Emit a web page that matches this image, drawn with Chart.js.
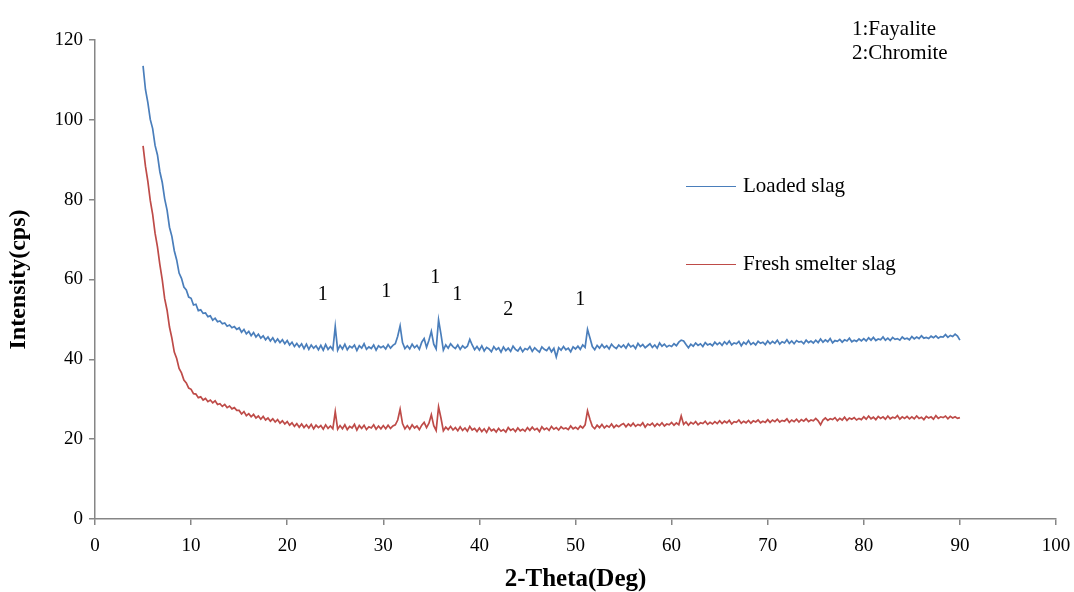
<!DOCTYPE html>
<html>
<head>
<meta charset="utf-8">
<script src="https://cdn.jsdelivr.net/npm/chart.js@4.4.0/dist/chart.umd.min.js"></script>
<style>
  html, body { margin: 0; padding: 0; background: #fff; }
  #wrap { width: 1074px; height: 592px; position: relative; }
</style>
</head>
<body>
<div id="wrap"><canvas id="xrd"></canvas></div>
<script>
// 2-theta grid: 5.00 .. 90.00 deg, 0.25 deg per reading
const thetaStart = 5;
const thetaStep = 0.25;

// Loaded slag (cps), one row per 5 deg
const loadedSlag = [
  113.5, 107.6, 104.3, 100.1, 97.8, 93.6, 91.2, 87.0, 84.3, 80.2, 77.4, 73.1, 70.8, 67.2, 64.9, 61.6, 60.3, 58.1, 57.4, 55.6,
  55.3, 53.6, 53.8, 52.2, 52.4, 51.5, 51.6, 50.7, 50.9, 49.8, 50.3, 49.4, 49.6, 48.9, 49.1, 48.3, 48.6, 47.9, 48.2, 47.5,
  47.9, 46.8, 47.5, 46.4, 47.0, 45.9, 46.7, 45.6, 46.3, 45.3, 45.9, 44.9, 45.6, 44.6, 45.4, 44.3, 45.1, 44.2, 44.9, 43.9,
  44.7, 43.6, 44.3, 43.2, 44.0, 43.1, 43.9, 42.7, 43.8, 42.5, 43.6, 42.8, 43.4, 42.4, 43.5, 42.3, 43.7, 42.5, 43.2, 42.4,
  48.2, 42.3, 43.5, 42.6, 43.8, 42.4, 43.3, 42.9, 43.6, 42.2, 43.4, 42.8, 43.9, 42.5, 43.1, 42.7, 43.6, 42.3, 43.4, 42.9,
  43.3, 42.6, 43.7, 42.8, 43.5, 43.9, 45.8, 48.4, 44.2, 42.7, 43.4, 42.6, 43.8, 42.9, 43.5, 42.5, 44.3, 45.2, 43.0, 44.8,
  47.0, 43.8, 42.6, 49.9, 46.3, 42.3, 43.6, 42.8, 43.9, 43.2, 42.7, 43.6, 42.5, 43.4, 42.8, 43.3, 45.0, 43.6, 42.4, 43.2,
  42.3, 43.4, 42.1, 43.0, 42.6, 41.9, 43.2, 42.4, 42.9, 41.8, 43.1, 42.2, 42.8, 42.0, 43.3, 42.5, 42.1, 43.0, 41.9, 42.7,
  42.4, 43.2, 42.0, 42.9, 42.3, 41.8, 43.1, 42.5, 42.2, 43.0, 41.9, 42.8, 40.6, 42.9, 42.3, 43.2, 42.4, 42.8, 41.9, 43.1,
  42.6, 43.3, 42.5, 43.6, 43.0, 47.5, 45.4, 43.2, 42.4, 43.5, 42.8, 43.7, 42.9, 43.4, 42.6, 43.8, 43.1, 42.7, 43.6, 43.0,
  43.6, 42.8, 43.9, 43.1, 43.5, 42.7, 44.0, 43.2, 43.7, 42.9, 43.4, 43.9, 43.0, 43.6, 42.8, 44.1, 43.3, 43.8, 43.1, 43.5,
  43.2, 43.9, 43.4, 44.3, 44.8, 44.6, 43.7, 42.9, 43.8, 43.3, 44.1, 43.5, 43.9, 43.2, 44.2, 43.6, 43.9, 43.4, 44.3, 43.7,
  44.2, 43.5, 44.4, 43.8, 44.6, 43.6, 44.1, 43.9, 44.5, 43.4, 44.3, 43.8, 44.7, 43.7, 44.2, 43.6, 44.5, 44.0, 44.3, 43.7,
  44.6, 43.9, 44.5, 44.0, 44.8, 43.8, 44.4, 44.1, 44.9, 44.0, 44.6, 43.9, 44.7, 44.3, 44.5, 43.9, 44.8, 44.2, 44.6, 44.1,
  44.8, 44.2, 45.1, 44.3, 44.9, 44.4, 45.2, 44.1, 44.7, 44.5, 45.0, 44.3, 44.9, 44.6, 45.3, 44.4, 44.8, 44.5, 45.1, 44.6,
  45.2, 44.6, 45.4, 44.8, 45.5, 44.7, 45.1, 44.9, 45.6, 44.8, 45.3, 44.7, 45.5, 45.0, 45.2, 44.8, 45.6, 45.1, 45.3, 44.9,
  45.7, 45.1, 45.6, 45.2, 45.9, 45.3, 45.5, 45.2, 45.8, 45.4, 45.9, 45.3, 45.7, 45.6, 46.2, 45.5, 46.0, 45.7, 46.3, 45.8,
  44.8
];

// Fresh smelter slag (cps), one row per 5 deg
const freshSlag = [
  93.5, 88.4, 84.6, 79.8, 76.3, 71.6, 68.2, 63.7, 59.9, 55.2, 52.3, 48.1, 45.3, 41.8, 40.2, 37.7, 36.6, 34.8, 34.1, 32.8,
  32.5, 31.4, 31.3, 30.4, 30.6, 29.8, 30.2, 29.4, 29.8, 29.1, 29.6, 28.7, 28.9, 28.2, 28.7, 27.9, 28.3, 27.6, 27.9, 27.2,
  27.2, 26.3, 26.9, 25.9, 26.4, 25.6, 26.2, 25.3, 25.8, 25.0, 25.7, 24.8, 25.3, 24.5, 25.1, 24.3, 24.9, 24.0, 24.6, 23.8,
  24.4, 23.5, 24.1, 23.2, 23.9, 23.0, 23.8, 22.9, 23.6, 22.8, 23.7, 22.6, 23.5, 22.9, 23.4, 22.5, 23.6, 22.7, 23.3, 22.6,
  26.9, 22.5, 23.4, 22.6, 23.6, 22.4, 23.2, 22.8, 23.7, 22.3, 23.4, 22.7, 23.5, 22.4, 23.1, 22.8, 23.6, 22.5, 23.3, 22.6,
  23.4, 22.6, 23.5, 22.7, 23.3, 23.6, 24.8, 27.5, 23.9, 22.6, 23.4, 22.5, 23.6, 22.8, 23.3, 22.4, 23.5, 24.2, 22.9, 24.0,
  26.1, 23.4, 22.2, 28.1, 25.3, 22.1, 23.0, 22.4, 23.2, 22.3, 22.9, 22.1, 23.1, 22.2, 22.8, 22.0, 23.2, 22.3, 22.7, 21.9,
  22.8, 21.9, 22.6, 21.7, 22.9, 22.1, 22.5, 21.8, 22.7, 22.0, 22.4, 21.8, 22.9, 22.2, 22.6, 21.9, 22.8, 22.1, 22.5, 22.0,
  22.9, 22.2, 23.0, 22.3, 22.7, 21.9, 23.1, 22.4, 22.8, 22.2, 23.2, 22.5, 22.9, 22.3, 23.1, 22.6, 22.8, 22.4, 23.3, 22.6,
  23.0, 22.5, 23.3, 22.8, 23.6, 27.1, 25.0, 23.2, 22.6, 23.5, 22.9, 23.7, 22.8, 23.4, 23.0, 23.8, 22.9, 23.5, 23.1, 23.6,
  23.9, 23.1, 23.8, 23.3, 24.0, 23.2, 23.7, 23.4, 24.1, 23.0, 23.8, 23.5, 24.0, 23.2, 23.9, 23.4, 24.1, 23.3, 23.8, 23.6,
  24.2, 23.5, 24.1, 23.6, 25.8, 23.7, 24.3, 23.5, 24.2, 23.8, 24.4, 23.6, 24.1, 23.9, 24.5, 23.7, 24.2, 23.8, 24.4, 23.9,
  24.6, 23.9, 24.5, 24.1, 24.7, 23.8, 24.4, 24.2, 24.8, 24.0, 24.5, 24.1, 24.7, 24.0, 24.6, 24.3, 24.8, 24.1, 24.5, 24.2,
  24.9, 24.2, 24.8, 24.4, 25.0, 24.3, 24.7, 24.5, 25.1, 24.2, 24.8, 24.4, 25.0, 24.3, 24.9, 24.5, 25.1, 24.4, 24.8, 24.6,
  25.2, 24.6, 23.6, 24.8, 25.3, 24.7, 25.1, 24.9, 25.4, 24.6, 25.2, 24.8, 25.5, 24.7, 25.3, 25.0, 25.4, 24.8, 25.2, 24.9,
  25.6, 25.0, 25.8, 25.1, 25.5, 24.9, 25.7, 25.2, 25.6, 25.0, 25.8, 25.1, 25.5, 25.3, 25.9, 25.0, 25.6, 25.2, 25.7, 25.1,
  25.6, 25.1, 25.8, 25.2, 25.5, 24.9, 25.7, 25.3, 25.6, 25.0, 25.9, 25.2, 25.6, 25.4, 25.8, 25.1, 25.7, 25.3, 25.6, 25.2,
  25.4
];

// Peak markers (phase number, placed above the peaks)
const peakLabels = ['1', '1', '1', '1', '2', '1'];
const peakLabelTheta = [23.7, 30.3, 35.4, 37.7, 43.0, 50.5];
const peakLabelIntensity = [56.1, 56.9, 60.4, 56.1, 52.4, 54.9];

const phaseNotes = ['1:Fayalite', '2:Chromite'];
const seriesNames = ['Loaded slag', 'Fresh smelter slag'];
const seriesColors = ['#4a7ebb', '#be4b48'];
// where the hand-drawn legend entries sit, in data units
const legendTheta = 61.5;
const legendIntensity = [83.5, 64.0];

const SERIF = "'Liberation Serif', 'Times New Roman', serif";
const AXIS_GREY = '#868686';

function toPoints(values) {
  return values.map((v, i) => ({ x: thetaStart + i * thetaStep, y: v }));
}

// ---------------------------------------------------------------------------
// Annotations: peak numbers, phase key, side legend
// ---------------------------------------------------------------------------
const annotationPlugin = {
  id: 'xrdAnnotations',
  afterDatasetsDraw(chart) {
    const { ctx, scales: { x, y } } = chart;
    ctx.save();
    ctx.fillStyle = '#000';
    ctx.textBaseline = 'middle';

    ctx.font = `20px ${SERIF}`;
    ctx.textAlign = 'center';
    peakLabels.forEach((t, i) => {
      ctx.fillText(t, x.getPixelForValue(peakLabelTheta[i]), y.getPixelForValue(peakLabelIntensity[i]));
    });

    // phase key, top right corner
    ctx.textAlign = 'left';
    ctx.font = `21px ${SERIF}`;
    ctx.fillText(phaseNotes[0], 852, 29);
    ctx.fillText(phaseNotes[1], 852, 53);

    // legend
    seriesNames.forEach((name, i) => {
      const px = x.getPixelForValue(legendTheta);
      const py = Math.round(y.getPixelForValue(legendIntensity[i])) + 0.5;
      ctx.strokeStyle = seriesColors[i];
      ctx.lineWidth = 1;
      ctx.beginPath();
      ctx.moveTo(px, py);
      ctx.lineTo(px + 50, py);
      ctx.stroke();
      ctx.fillText(name, px + 57, py);
    });
    ctx.restore();
  }
};

const axisBase = {
  type: 'linear',
  border: { color: AXIS_GREY, width: 1.5 },
  grid: { drawOnChartArea: false, drawTicks: true, tickLength: 6, color: AXIS_GREY, lineWidth: 1.5 },
  ticks: { color: '#000', font: { family: SERIF, size: 19 }, padding: 6 }
};

new Chart(document.getElementById('xrd'), {
  type: 'line',
  data: {
    datasets: [
      { label: seriesNames[0], data: toPoints(loadedSlag), borderColor: seriesColors[0], borderWidth: 1.7 },
      { label: seriesNames[1], data: toPoints(freshSlag), borderColor: seriesColors[1], borderWidth: 1.7 }
    ]
  },
  options: {
    responsive: true,
    maintainAspectRatio: false,
    animation: false,
    parsing: false,
    elements: { point: { radius: 0 }, line: { tension: 0 } },
    layout: { padding: { top: 40, right: 18, left: 0, bottom: 0 } },
    plugins: { legend: { display: false }, tooltip: { enabled: false } },
    scales: {
      x: {
        ...axisBase,
        min: 0, max: 100,
        ticks: { ...axisBase.ticks, stepSize: 10, maxRotation: 0, padding: 10 },
        title: { display: true, text: '2-Theta(Deg)', color: '#000', font: { family: SERIF, size: 25, weight: 'bold' }, padding: { top: 14, bottom: -3 } },
        afterFit(scale) {
          scale.height = 73;
          scale.paddingLeft = 0;
          scale.paddingRight = 0;
        }
      },
      y: {
        ...axisBase,
        min: 0, max: 120,
        ticks: { ...axisBase.ticks, stepSize: 20, padding: 6 },
        title: { display: true, text: 'Intensity(cps)', color: '#000', font: { family: SERIF, size: 24, weight: 'bold' }, padding: { bottom: 4 } },
        afterFit(scale) { scale.width = 95; }
      }
    }
  },
  plugins: [annotationPlugin]
});
</script>
</body>
</html>
